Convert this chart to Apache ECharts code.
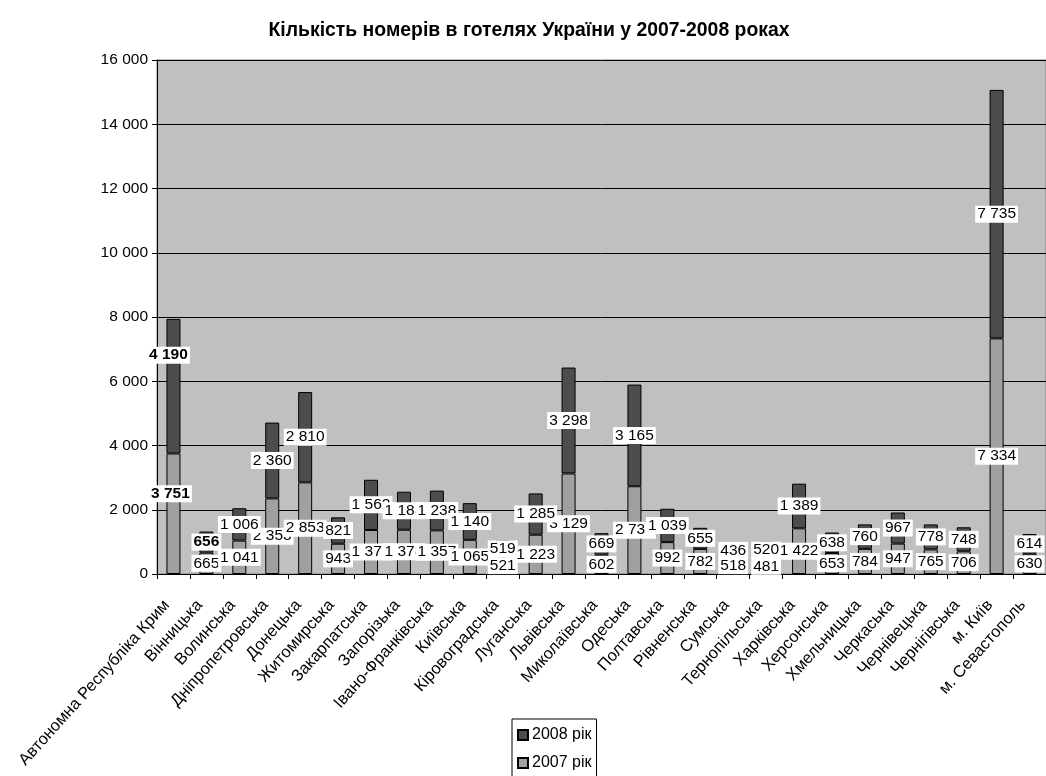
<!DOCTYPE html>
<html>
<head>
<meta charset="utf-8">
<script src="https://cdn.jsdelivr.net/npm/echarts@6/dist/echarts.min.js"></script>
<style>
html,body{margin:0;padding:0;background:#fff;}
#chart{width:1046px;height:776px;}
</style>
</head>
<body>
<div id="chart"></div>
<script>
const categories = [
  'Автономна Республіка Крим','Вінницька','Волинська','Дніпропетровська','Донецька',
  'Житомирська','Закарпатська','Запорізька','Івано-Франківська','Київська',
  'Кіровоградська','Луганська','Львівська','Миколаївська','Одеська','Полтавська',
  'Рівненська','Сумська','Тернопільська','Харківська','Херсонська','Хмельницька',
  'Черкаська','Чернівецька','Чернігівська','м. Київ','м. Севастополь'
];
const values2007 = [3751, 665, 1041, 2353, 2853, 943, 1371, 1378, 1357, 1065, 521, 1223, 3129, 602, 2731, 992, 782, 518, 481, 1422, 653, 784, 947, 765, 706, 7334, 630];
const values2008 = [4190, 656, 1006, 2360, 2810, 821, 1562, 1183, 1238, 1140, 519, 1285, 3298, 669, 3165, 1039, 655, 436, 520, 1389, 638, 760, 967, 778, 748, 7735, 614];
const seriesNames = ['2007 рік', '2008 рік'];
const yMin = 0, yMax = 16000, yStep = 2000;

const FONT = "'Liberation Sans', Arial, sans-serif";
const FS = 15.5;

function fmt(v) {
  return String(Math.round(v)).replace(/\B(?=(\d{3})+(?!\d))/g, ' ');
}

const labelBase = {
  show: true,
  position: 'inside',
  color: '#000',
  backgroundColor: '#fff',
  padding: [1, 2, 0, 2],
  fontSize: FS,
  fontFamily: FONT,
  formatter: p => fmt(p.value)
};

const data2007 = values2007.map((v, i) => {
  if (i === 0) return { value: v, label: { fontWeight: 'bold', offset: [-3, -20] } };
  return v;
});
const data2008 = values2008.map((v, i) => {
  if (i === 0) return { value: v, label: { fontWeight: 'bold', offset: [-5, -31] } };
  if (i === 1) return { value: v, label: { fontWeight: 'bold' } };
  return v;
});

const chart = echarts.init(document.getElementById('chart'));
chart.setOption({
  backgroundColor: '#fff',
  animation: false,
  title: {
    text: 'Кількість номерів в готелях України у 2007-2008 роках',
    left: 524,
    textAlign: 'center',
    top: 16,
    textStyle: { fontFamily: FONT, fontSize: 19.4, fontWeight: 'bold', color: '#000' }
  },
  legend: {
    orient: 'vertical',
    left: 512,
    top: 719,
    height: 70,
    data: ['2008 рік', '2007 рік'],
    icon: 'rect',
    itemWidth: 10,
    itemHeight: 10,
    itemGap: 12,
    padding: [8, 5, 14, 5],
    backgroundColor: '#fff',
    borderColor: '#000',
    borderWidth: 1,
    borderRadius: 0,
    textStyle: { fontFamily: FONT, fontSize: 16, color: '#000', padding: [0, 0, 0, -1] }
  },
  grid: {
    left: 157, right: -9, top: 60, bottom: 202,
    show: true,
    backgroundColor: '#C0C0C0',
    borderColor: '#808080',
    borderWidth: 1
  },
  xAxis: {
    type: 'category',
    data: categories,
    axisLine: { show: true, lineStyle: { color: '#000', width: 1 } },
    axisTick: { show: true, length: 5, lineStyle: { color: '#000' } },
    axisLabel: {
      interval: 0, rotate: 48, margin: 21,
      padding: [0, 10, 0, 0],
      fontFamily: FONT, fontSize: 16.5, color: '#000'
    }
  },
  yAxis: {
    type: 'value',
    min: yMin, max: yMax, interval: yStep,
    axisLine: { show: true, lineStyle: { color: '#000', width: 1 } },
    axisTick: { show: true, length: 5, lineStyle: { color: '#000' } },
    splitLine: { show: true, lineStyle: { color: '#000', width: 1 } },
    axisLabel: {
      margin: 9, fontFamily: FONT, fontSize: FS, color: '#000',
      formatter: v => fmt(v)
    }
  },
  series: [
    {
      name: seriesNames[0],
      type: 'bar',
      stack: 'total',
      barWidth: 14,
      data: data2007,
      itemStyle: { color: '#A0A0A0', borderColor: '#000', borderWidth: 1 },
      label: labelBase
    },
    {
      name: seriesNames[1],
      type: 'bar',
      stack: 'total',
      barWidth: 14,
      data: data2008,
      itemStyle: { color: '#4D4D4D', borderColor: '#000', borderWidth: 1 },
      label: labelBase
    }
  ]
});
</script>
</body>
</html>
